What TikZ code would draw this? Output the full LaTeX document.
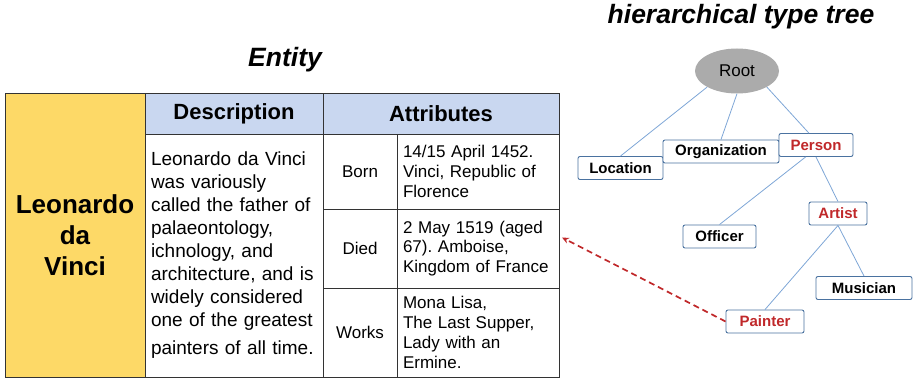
\documentclass[tikz,border=0pt]{standalone}
\usepackage{fontspec}
\setmainfont{Liberation Sans}
\usetikzlibrary{arrows.meta,shapes.geometric,calc}
\definecolor{ldyellow}{HTML}{FDD967}
\definecolor{hdrblue}{HTML}{C9D7F0}
\definecolor{tblline}{HTML}{333333}
\definecolor{treeline}{HTML}{7EA6D6}
\definecolor{boxline}{HTML}{4A72A0}
\definecolor{typered}{HTML}{C0282A}
\definecolor{rootgray}{HTML}{ABABAB}
\frenchspacing
\begin{document}
\begin{tikzpicture}[x=1pt,y=-1pt,
  cell/.style={draw=tblline, line width=0.9pt, anchor=north west, inner sep=0pt, outer sep=0pt},
  hdrtext/.style={font=\bfseries\fontsize{22}{26}\selectfont},
  lbltext/.style={font=\fontsize{17}{20}\selectfont},
  valtext/.style={font=\fontsize{17}{19.8}\selectfont, align=left, text width=150pt},
  typebox/.style={draw=boxline, line width=0.9pt, rounded corners=2pt, fill=white, inner sep=0pt, minimum height=23pt, font=\bfseries\fontsize{15}{18}\selectfont},
  redtype/.style={text=typered},
  treeedge/.style={draw=treeline, line width=0.8pt},
  titletext/.style={font=\bfseries\itshape\fontsize{26.5}{30}\selectfont}]
\useasboundingbox (0,0) rectangle (913,379);

% titles
\node[titletext] (enttitle) at (285,60) {Entity};
\node[titletext] (treetitle) at (741,17) {hierarchical type tree};

% table
\node[cell, fill=ldyellow, minimum width=140pt, minimum height=284pt, align=center,
      font=\bfseries\fontsize{26}{31}\selectfont] (name) at (5,93) {Leonardo\\da\\Vinci};
\node[cell, fill=hdrblue, minimum width=178pt, minimum height=41pt, hdrtext] (deschdr) at (145,93) {Description};
\node[cell, fill=hdrblue, minimum width=236pt, minimum height=41pt, hdrtext] (attrhdr) at (323,93) {Attributes};
\node[cell, minimum width=178pt, minimum height=243pt, align=left, text width=166pt,
      font=\fontsize{19}{23}\selectfont] (desc) at (145,134)
  {Leonardo da Vinci\\was variously\\called the father of\\palaeontology,\\ichnology, and\\architecture, and is\\widely considered\\one of the greatest\\[5pt]painters of all time.};
\node[cell, minimum width=74pt, minimum height=75pt, lbltext] (bornlbl) at (323,134) {Born};
\node[cell, minimum width=162pt, minimum height=75pt, valtext] (bornval) at (397,134)
  {14/15 April 1452.\\Vinci, Republic of\\Florence};
\node[cell, minimum width=74pt, minimum height=79pt, lbltext] (diedlbl) at (323,209) {Died};
\node[cell, minimum width=162pt, minimum height=79pt, valtext] (diedval) at (397,209)
  {2 May 1519 (aged\\67). Amboise,\\Kingdom of France};
\node[cell, minimum width=74pt, minimum height=89pt, lbltext] (workslbl) at (323,288) {Works};
\node[cell, minimum width=162pt, minimum height=89pt, valtext] (worksval) at (397,288)
  {Mona Lisa,\\The Last Supper,\\Lady with an\\Ermine.};

% tree
\node[ellipse, fill=rootgray, minimum width=84pt, minimum height=45pt, inner sep=0pt,
      font=\fontsize{17}{20}\selectfont] (root) at (737,71) {Root};
\node[typebox, minimum width=85pt] (location) at (620.5,168) {Location};
\node[typebox, minimum width=116pt] (organization) at (721,151.5) {Organization};
\node[typebox, redtype, minimum width=74pt] (person) at (816,145) {Person};
\node[typebox, redtype, minimum width=58pt] (artist) at (838,213.5) {Artist};
\node[typebox, minimum width=73pt] (officer) at (719.5,236.5) {Officer};
\node[typebox, minimum width=96pt] (musician) at (864,288) {Musician};
\node[typebox, redtype, minimum width=78pt] (painter) at (765,321.5) {Painter};

\draw[treeedge] (root.south west) -- (location.north);
\draw[treeedge] (root.south) -- (organization.north);
\draw[treeedge] (root.south east) -- (person.121);
\draw[treeedge] (person.229) -- (officer.north);
\draw[treeedge] (person.south) -- (artist.north);
\draw[treeedge] (artist.south) -- (painter.north);
\draw[treeedge] (artist.south) -- (musician.north);

% link
\coordinate (linkend) at ($(diedval.east)+(3,-11)$);
\draw[typered, line width=1.7pt, dash pattern=on 6pt off 4pt, -{Stealth[length=7pt,width=6pt]}]
  (painter.west) -- (linkend);
\end{tikzpicture}
\end{document}
